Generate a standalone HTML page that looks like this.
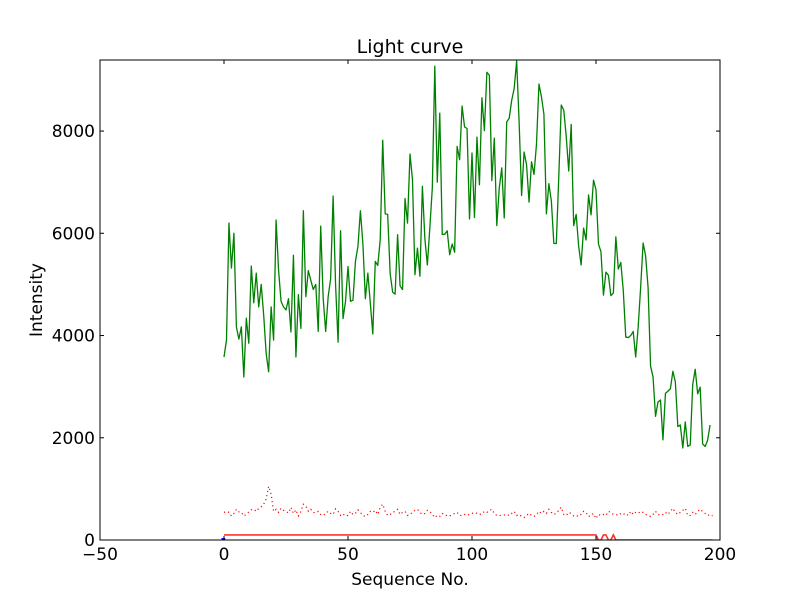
<!DOCTYPE html>
<html><head><meta charset="utf-8"><style>
html,body{margin:0;padding:0;background:#fff;}
svg{display:block;font-family:"DejaVu Sans","Liberation Sans",sans-serif;}
</style></head><body>
<svg id="chart" width="800" height="600" viewBox="0 0 800 600" xmlns="http://www.w3.org/2000/svg">
<rect width="800" height="600" fill="#fff"/>
<text x="410" y="53" font-size="19" text-anchor="middle">Light curve</text>
<text x="410" y="585" font-size="17" text-anchor="middle">Sequence No.</text>
<text x="42" y="300" font-size="17" text-anchor="middle" transform="rotate(-90 42 300)">Intensity</text>
<g id="plot"></g>
<g id="axes"></g>
</svg>
<script>
const xTicks = [-50, 0, 50, 100, 150, 200];
const yTicks = [0, 2000, 4000, 6000, 8000];
const greenValues = [3580,3910,6200,5320,6000,4170,3930,4170,3190,4340,3850,5360,4640,5220,4560,5000,4400,3650,3290,
4560,3910,6260,5280,4670,4560,4500,4720,4070,5570,3580,4800,4140,6440,4760,5270,5080,4900,5000,4080,6140,4720,4080,4760,5110,6730,4980,3870,6050,4330,4670,5350,4670,4690,5450,5740,6440,5800,4720,5220,4630,4030,5450,5370,5880,7820,6380,6370,5210,4850,4810,5970,
4970,4900,6680,6200,7550,7050,5190,5710,5160,6920,5890,5380,6110,6890,9270,7000,8350,5980,5980,6050,5580,5790,5630,7700,7440,8490,8080,8050,6280,
7570,6310,7880,6950,8650,8010,9150,9090,7030,7860,6150,6890,7280,6300,8180,8250,8600,8830,9370,8180,6740,7590,7340,6610,7400,7150,7740,8920,8670,8330,6380,6970,6630,5800,5800,7120,8510,8410,7890,7220,8130,6150,6370,5750,5380,6100,5870,
6750,6360,7040,6850,5790,5640,4790,5240,5180,4780,4830,5930,5300,5430,4880,3970,3960,4000,4080,3580,4160,4940,5810,5560,4940,3400,3190,2420,2700,2740,1960,2870,2910,2960,3300,3090,2220,2250,1800,2310,1830,1860,3040,3340,2860,2990,1880,1830,1950,2250];
const dotValues = [540,560,540,470,520,600,550,540,470,500,550,590,600,560,620,650,700,800,1050,900,560,600,540,620,580,560,530,640,520,590,470,560,700,660,560,600,540,530,560,500,480,520,560,520,500,610,560,480,510,470,480,560,500,520,590,540,480,460,500,560,540,580,500,640,700,560,480,500,540,560,600,500,540,560,480,500,540,580,600,540,500,520,580,560,500,440,480,460,520,500,470,470,500,520,540,480,480,500,480,500,
520,540,520,500,510,560,540,580,600,520,480,480,480,490,500,480,520,560,480,500,460,440,480,520,480,460,500,560,520,560,520,600,540,500,520,580,640,500,480,540,520,470,480,460,500,560,540,460,480,520,420,500,480,500,480,560,540,500,500,480,520,500,520,480,560,500,540,520,560,540,500,480,460,500,560,500,480,500,540,500,560,620,540,500,540,580,620,480,480,540,500,560,600,560,520,480,500,470];
const redLineValues = (function(){const a=[];for(let i=0;i<=197;i++){a.push(i<=150?100:0);}return a;})();
redLineValues[153]=100;redLineValues[154]=100;redLineValues[157]=100;
const blueX = [-1, 0.5];
const blueValues = [0, 0];

const L=100,R=720,T=60,B=540,XMIN=-50,XMAX=200,YMIN=0,YMAX=9390;
const sx=v=>L+(v-XMIN)/(XMAX-XMIN)*(R-L);
const sy=v=>B-(v-YMIN)/(YMAX-YMIN)*(B-T);
const NS="http://www.w3.org/2000/svg";
const plot=document.getElementById('plot'), axes=document.getElementById('axes');
function mk(tag,attrs,parent){const e=document.createElementNS(NS,tag);for(const k in attrs)e.setAttribute(k,attrs[k]);parent.appendChild(e);return e;}
function pts(xs,ys){return ys.map((v,i)=>sx(xs?xs[i]:i).toFixed(2)+','+sy(v).toFixed(2)).join(' ');}

const clip=mk('clipPath',{id:'clip'},plot);mk('rect',{x:L,y:T,width:R-L,height:B-T},clip);
const g=mk('g',{'clip-path':'url(#clip)'},plot);

const rl=mk('polyline',{points:pts(null,redLineValues),fill:'none',stroke:'#f33','stroke-width':1.6},g);


const bl=mk('polyline',{points:pts(blueX,blueValues),fill:'none',stroke:'#00f','stroke-width':4},g);


const dl=mk('polyline',{points:pts(null,dotValues),fill:'none',stroke:'#f00','stroke-width':1.2,'stroke-dasharray':'1.2,3'},g);


const gl=mk('polyline',{points:pts(null,greenValues),fill:'none',stroke:'#008000','stroke-width':1.3,'stroke-linejoin':'round'},g);



const frame=mk('rect',{x:L,y:T,width:R-L,height:B-T,fill:'none',stroke:'#000','stroke-width':1},axes);


xTicks.forEach(v=>{const x=sx(v);
 mk('line',{x1:x,y1:B,x2:x,y2:B-4,stroke:'#000'},axes);
 mk('line',{x1:x,y1:T,x2:x,y2:T+4,stroke:'#000'},axes);
 const t=mk('text',{x:x,y:B+20,'font-size':17,'text-anchor':'middle'},axes);t.textContent=v<0?'\u2212'+(-v):v;
 
 });
yTicks.forEach(v=>{const y=sy(v);
 mk('line',{x1:L,y1:y,x2:L+4,y2:y,stroke:'#000'},axes);
 mk('line',{x1:R,y1:y,x2:R-4,y2:y,stroke:'#000'},axes);
 const t=mk('text',{x:L-5,y:y+6,'font-size':17,'text-anchor':'end'},axes);t.textContent=v;
 
 });
</script>
</body></html>
